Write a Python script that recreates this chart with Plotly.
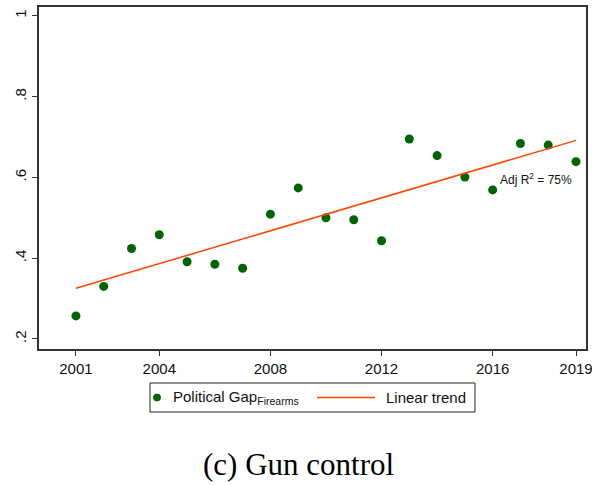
import numpy as np
import plotly.graph_objects as go

years = [2001, 2002, 2003, 2004, 2005, 2006, 2007, 2008, 2009, 2010,
         2011, 2012, 2013, 2014, 2015, 2016, 2017, 2018, 2019]
gap = [0.257, 0.330, 0.424, 0.458, 0.391, 0.385, 0.375, 0.509, 0.574, 0.500,
       0.495, 0.443, 0.695, 0.654, 0.601, 0.569, 0.684, 0.680, 0.639]
x_ticks = [2001, 2004, 2008, 2012, 2016, 2019]
y_ticks = [0.2, 0.4, 0.6, 0.8, 1.0]
y_ticktext = [".2", ".4", ".6", ".8", "1"]

slope, intercept = np.polyfit(years, gap, 1)
trend = [slope * x + intercept for x in years]

GREEN = "#006400"
ORANGE = "#FF4500"

fig = go.Figure()
fig.add_trace(go.Scatter(
    x=years, y=gap, mode="markers",
    marker=dict(color=GREEN, size=9),
    name="Political Gap<sub>Firearms</sub>", showlegend=False))
fig.add_trace(go.Scatter(
    x=years, y=trend, mode="lines",
    line=dict(color=ORANGE, width=1.5),
    name="Linear trend", showlegend=False))

fig.add_annotation(x=2018.93, y=0.597, xref="x", yref="y",
                   text="Adj R<sup>2</sup> = 75%", showarrow=False,
                   xanchor="right", yanchor="middle",
                   font=dict(family="Liberation Sans, Arial", size=12, color="#111"))

# plot-area pixel geometry for placing the legend box in paper units
L, R, T, B = 39, 586, 7, 349
def px(x):
    return (x - L) / (R - L)
def py(y):
    return (B - y) / (B - T)

# legend box
fig.add_shape(type="rect", xref="paper", yref="paper",
              x0=px(150), x1=px(475), y0=py(383), y1=py(412),
              line=dict(color="#222", width=1), fillcolor="white")
fig.add_shape(type="circle", xref="paper", yref="paper",
              x0=px(153.5), x1=px(160.5), y0=py(394), y1=py(401),
              line=dict(color=GREEN, width=1), fillcolor=GREEN)
fig.add_annotation(x=px(171), y=py(397.5), xref="paper", yref="paper",
                   text="Political Gap<sub>Firearms</sub>", showarrow=False,
                   xanchor="left", yanchor="middle",
                   font=dict(family="Liberation Sans, Arial", size=15, color="#111"))
fig.add_shape(type="line", xref="paper", yref="paper",
              x0=px(317), x1=px(375), y0=py(397.5), y1=py(397.5),
              line=dict(color=ORANGE, width=1.5))
fig.add_annotation(x=px(384), y=py(397.5), xref="paper", yref="paper",
                   text="Linear trend", showarrow=False,
                   xanchor="left", yanchor="middle",
                   font=dict(family="Liberation Sans, Arial", size=15, color="#111"))

fig.add_annotation(x=px(298), y=py(465), xref="paper", yref="paper",
                   text="(c) Gun control", showarrow=False,
                   xanchor="center", yanchor="middle",
                   font=dict(family="Liberation Serif, serif", size=31, color="#000"))

fig.update_layout(
    width=592, height=485,
    margin=dict(l=L, r=592 - R, t=T, b=485 - B),
    paper_bgcolor="white", plot_bgcolor="white",
    font=dict(family="Liberation Sans, Arial", size=15, color="#111"),
    showlegend=False,
    xaxis=dict(range=[1999.67, 2019.36], tickvals=x_ticks, showgrid=False,
               zeroline=False, showline=True, linecolor="#333", linewidth=2,
               mirror=True, ticks="outside", ticklen=5, tickcolor="#333",
               tickfont=dict(size=15), automargin=False,
               ticklabeloverflow="allow"),
    yaxis=dict(range=[0.175, 1.022], tickvals=y_ticks, ticktext=y_ticktext,
               showgrid=False, zeroline=False, showline=True, linecolor="#333",
               linewidth=2, mirror=True, ticks="outside", ticklen=5,
               tickcolor="#333", tickangle=-90, tickfont=dict(size=15),
               automargin=False, ticklabeloverflow="allow"),
)

fig.write_html("out.html", config={"displayModeBar": False},
               post_script="document.body.style.margin='0';")
